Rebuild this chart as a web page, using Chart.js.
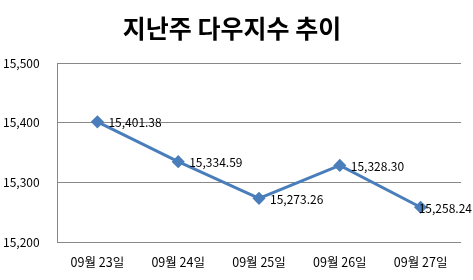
<!DOCTYPE html>
<html><head><meta charset="utf-8">
<script src="https://cdn.jsdelivr.net/npm/chart.js@4"></script>
<style>html,body{margin:0;padding:0;background:#fff}#wrap{width:473px;height:280px}</style>
</head><body><div id="wrap"><canvas id="c" width="473" height="280"></canvas></div>
<script>
const categories = ['09월 23일','09월 24일','09월 25일','09월 26일','09월 27일'];
const dowValues = [15401.38, 15334.59, 15273.26, 15328.30, 15258.24];
const titleText = '지난주 다우지수 추이';
const yMin = 15200, yMax = 15500, yStep = 100;

const fmt = v => v.toLocaleString('en-US',{minimumFractionDigits:2,maximumFractionDigits:2});

const labelPlugin = {
  id:'pointLabels',
  afterDatasetsDraw(chart){
    const ctx = chart.ctx;
    const meta = chart.getDatasetMeta(0);
    ctx.save();
    ctx.font = '12px "Noto Sans CJK KR", "DejaVu Sans", sans-serif';
    ctx.fillStyle = '#000';
    ctx.textBaseline = 'middle';
    ctx.textAlign = 'left';
    meta.data.forEach((pt,i)=>{
      const t = fmt(dowValues[i]);
      const w = ctx.measureText(t).width;
      let x = pt.x + 11;
      if (x + w > chart.width - 1) x = chart.width - 1 - w;
      ctx.fillText(t, x, pt.y + 1);
    });
    ctx.restore();
  }
};

new Chart(document.getElementById('c'), {
  type:'line',
  data:{labels:categories, datasets:[{
    data:dowValues,
    borderColor:'#4a7ebb', backgroundColor:'#4a7ebb',
    borderWidth:3, pointStyle:'rectRot', pointRadius:4.5, pointHoverRadius:4.5,
    tension:0
  }]},
  options:{
    responsive:false, animation:false,
    layout:{padding:{left:3,right:12,top:0,bottom:0}},
    plugins:{
      legend:{display:false}, tooltip:{enabled:false},
      title:{display:true, text:titleText, color:'#000',
        font:{family:'"Noto Sans CJK KR", sans-serif', size:25, weight:'bold', lineHeight:1.2},
        padding:{top:13,bottom:20}}
    },
    scales:{
      x:{offset:true,
        grid:{display:false, drawTicks:false},
        border:{display:false},
        ticks:{color:'#000', padding:13, maxRotation:0,
          font:{family:'"Noto Sans CJK KR", sans-serif', size:12.5}},
        afterFit(s){s.height = 38;}
      },
      y:{min:yMin, max:yMax,
        grid:{color:'#888', drawTicks:false, lineWidth:1},
        border:{display:true, color:'#888'},
        ticks:{stepSize:yStep, color:'#000', crossAlign:'far', padding:6,
          font:{family:'"Noto Sans CJK KR", sans-serif', size:12},
          callback:v=>v.toLocaleString('en-US')},
        afterFit(s){s.width = 54;}
      }
    }
  },
  plugins:[labelPlugin]
});
</script></body></html>
